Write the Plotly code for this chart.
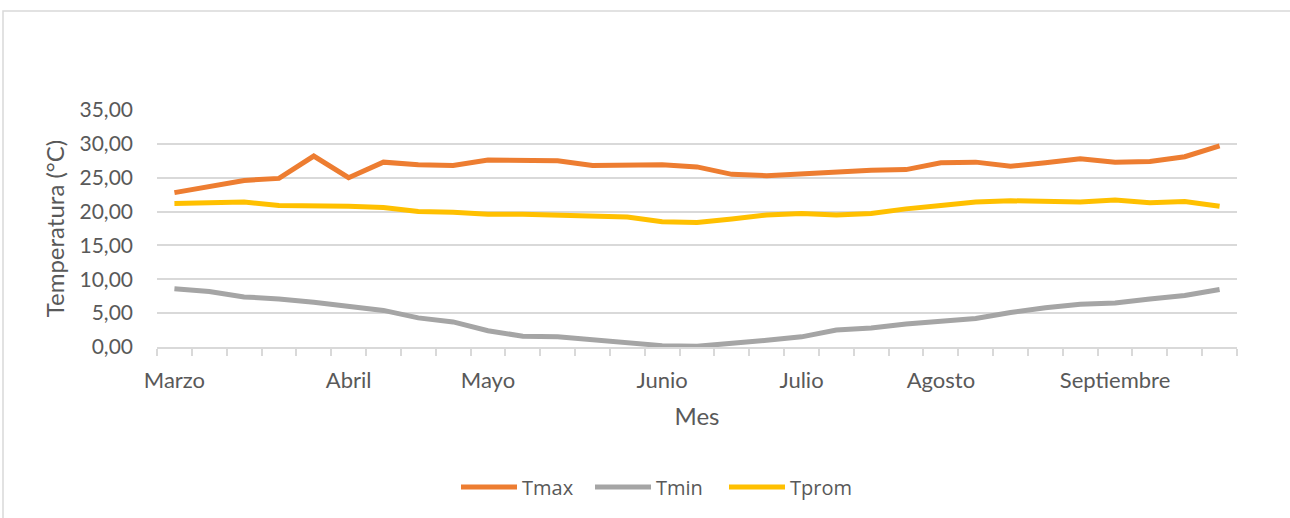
import plotly.graph_objects as go

# Weekly categories (31 points), month labels on first week of each month
weeks = list(range(31))
month_pos = [0, 5, 9, 14, 18, 22, 27]
month_names = ["Marzo", "Abril", "Mayo", "Junio", "Julio", "Agosto", "Septiembre"]

tmax = [22.8, 23.7, 24.6, 24.9, 28.2, 25.0, 27.3, 26.9, 26.8, 27.6, 27.5,
        27.5, 26.8, 26.8, 26.9, 26.6, 25.5, 25.3, 25.6, 25.9, 26.1,
        26.2, 27.2, 27.3, 26.7, 27.2, 27.8, 27.3, 27.4, 28.1, 29.7]
tmin = [8.6, 8.2, 7.4, 7.1, 6.6, 6.0, 5.4, 4.3, 3.7, 2.4, 1.6,
        1.5, 1.1, 0.6, 0.2, 0.1, 0.5, 1.0, 1.5, 2.5, 2.8,
        3.4, 3.8, 4.2, 5.1, 5.8, 6.3, 6.5, 7.1, 7.6, 8.5]
tprom = [21.2, 21.3, 21.4, 20.9, 20.9, 20.8, 20.6, 20.0, 19.9, 19.6, 19.6,
         19.5, 19.4, 19.2, 18.5, 18.4, 18.9, 19.5, 19.7, 19.5, 19.7,
         20.4, 20.9, 21.4, 21.6, 21.5, 21.4, 21.7, 21.3, 21.5, 20.8]

series = [("Tmax", tmax, "#ED7D31"), ("Tmin", tmin, "#A5A5A5"), ("Tprom", tprom, "#FFC000")]

TXT = "#595959"
GRID = "#D9D9D9"
FONT = "Lato, Carlito, Calibri, sans-serif"
LEGFONT = "'Open Sans', 'Segoe UI', sans-serif"

fig = go.Figure()
for name, vals, col in series:
    fig.add_trace(go.Scatter(x=weeks, y=vals, name=name, mode="lines",
                             line=dict(color=col, width=5, shape="linear")))

W, H = 1290, 518
L, R, T, B = 157, 53, 110, 171
pw, ph = W - L - R, H - T - B


def px(x):
    return (x - L) / pw


def py(y):
    return (H - B - y) / ph


fig.update_layout(
    width=W, height=H,
    margin=dict(l=L, r=R, t=T, b=B, autoexpand=False),
    paper_bgcolor="white", plot_bgcolor="white",
    separators=", ",
    font=dict(family=FONT, color=TXT, size=22),
    showlegend=True,
    legend=dict(orientation="h", x=px(456), xanchor="left", y=py(487), yanchor="middle",
                font=dict(size=20, color=TXT, family=LEGFONT), itemwidth=56,
                entrywidth=63, entrywidthmode="pixels", traceorder="normal",
                bgcolor="rgba(0,0,0,0)", borderwidth=0),
    xaxis=dict(range=[-0.5, 30.5], tickmode="array", tickvals=month_pos, ticktext=month_names,
               ticks="outside", ticklen=13, tickcolor="rgba(0,0,0,0)",
               showgrid=False, zeroline=False, showline=True, linecolor=GRID, linewidth=1.5,
               tickfont=dict(size=22, color=TXT),
               minor=dict(tickmode="linear", tick0=-0.5, dtick=1, ticks="outside",
                          ticklen=7, tickcolor=GRID, tickwidth=1.5, showgrid=False),
               title=dict(text="Mes", font=dict(size=24, color=TXT), standoff=16)),
    yaxis=dict(range=[0, 35], tickmode="linear", tick0=0, dtick=5, tickformat=".2f",
               showgrid=True, gridcolor=GRID, gridwidth=1.5, zeroline=False,
               showline=False, ticks="", ticklabelstandoff=23,
               tickfont=dict(size=21, color=TXT),
               title=dict(text="Temperatura (°C)", font=dict(size=24, color=TXT), standoff=8)),
)

# chart area border (top and left edges visible, rest cropped)
fig.add_shape(type="rect", xref="paper", yref="paper",
              x0=px(3), x1=px(1300), y0=py(11), y1=py(530),
              line=dict(color=GRID, width=1.5), fillcolor="rgba(0,0,0,0)", layer="below")

fig.write_html("out.html")
